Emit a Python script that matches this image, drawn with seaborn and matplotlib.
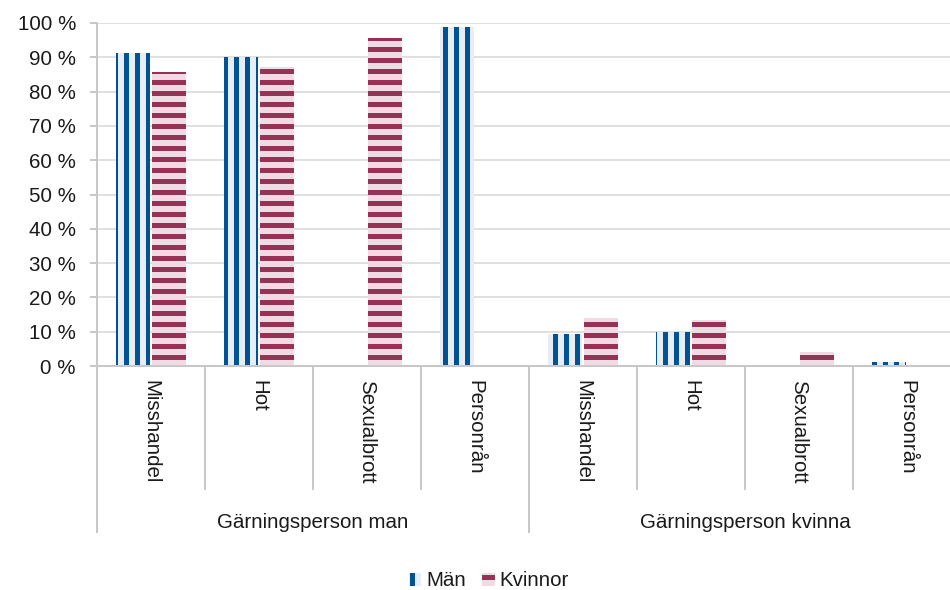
import matplotlib
matplotlib.use("Agg")
import matplotlib.pyplot as plt
import numpy as np
import pandas as pd
import seaborn as sns
from matplotlib.patches import Patch
from matplotlib.transforms import blended_transform_factory

# ---------------- data ----------------
groups = ["Gärningsperson man", "Gärningsperson kvinna"]
crimes = ["Misshandel", "Hot", "Sexualbrott", "Personrån"]
series = ["Män", "Kvinnor"]
man_values = [91.3, 90.1, 0.0, 98.8, 9.3, 9.9, 0.0, 1.2]
kvinnor_values = [85.7, 87.2, 95.6, 0.0, 14.0, 13.4, 4.1, 0.0]
yticks = [0, 10, 20, 30, 40, 50, 60, 70, 80, 90, 100]
ytick_labels = [f"{v} %" for v in yticks]

# ---------------- styling ----------------
DPI = 66
W, H = 950, 590


def pt(px):
    return px * 72.0 / DPI


sns.set_style("white")
plt.rcParams["font.family"] = ["Liberation Sans", "DejaVu Sans"]
plt.rcParams["hatch.linewidth"] = pt(5.0)
FS = pt(20.5)

man_dark, man_light = "#005293", "#e6edf5"
kv_dark, kv_light = "#953256", "#f0dae3"
grid_c = "#e0e0e0"
axis_c = "#c8c8c8"
text_c = "#1a1a1a"

# ---------------- data frame ----------------
keys = [f"{g}|{c}" for g in groups for c in crimes]
df = pd.DataFrame({
    "key": keys * 2,
    "serie": [series[0]] * len(keys) + [series[1]] * len(keys),
    "value": man_values + kvinnor_values,
})

fig = plt.figure(figsize=(W / DPI, H / DPI), dpi=DPI)
ax = fig.add_axes([97 / W, 1 - 366 / H, 864 / W, 343 / H])

sns.barplot(data=df, x="key", y="value", hue="serie", order=keys,
            hue_order=series, width=0.65, gap=0.03, legend=False, ax=ax,
            zorder=3)

styles = [(man_light, man_dark, "|"), (kv_light, kv_dark, "-")]
for cont, (fc, ec, ht) in zip(ax.containers, styles):
    for bar in cont:
        bar.set_facecolor(fc)
        bar.set_edgecolor(ec)
        bar.set_hatch(ht)
        bar.set_linewidth(0)

ax.set_xlim(-0.5, len(keys) - 0.5)
ax.set_ylim(0, 100)
ax.set_yticks(yticks)
ax.set_yticklabels(ytick_labels, fontsize=FS, color=text_c)
ax.set_xticks([])
ax.set_xlabel("")
ax.set_ylabel("")
ax.tick_params(axis="y", length=pt(7), width=pt(2), color=axis_c, pad=pt(14), left=True)
ax.yaxis.grid(True, color=grid_c, linewidth=pt(2))
ax.set_axisbelow(True)
for s in ["top", "right"]:
    ax.spines[s].set_visible(False)
for s in ["left", "bottom"]:
    ax.spines[s].set_color(axis_c)
    ax.spines[s].set_linewidth(pt(2))
ax.spines["bottom"].set_zorder(4)

# ---------------- category axis decorations ----------------
trans = blended_transform_factory(ax.transData, ax.transAxes)
ax_h = 343.0
for k in range(len(keys) + 1):
    x = k - 0.5
    y_end = -(533 - 366) / ax_h if k % 4 == 0 else -(490 - 366) / ax_h
    ax.plot([x, x], [0, y_end], transform=trans, color=axis_c,
            linewidth=pt(2), clip_on=False, solid_capstyle="butt")

for i, key in enumerate(keys):
    ax.text(i, -(380 - 366) / ax_h, key.split("|")[1], transform=trans,
            rotation=270, ha="center", va="top", fontsize=FS, color=text_c)

for gi, g in enumerate(groups):
    ax.text(gi * 4 + 1.5, -(522 - 366) / ax_h, g, transform=trans,
            ha="center", va="center", fontsize=FS, color=text_c)

# ---------------- legend ----------------
handles = [Patch(facecolor=man_light, edgecolor=man_dark, hatch="|", linewidth=0),
           Patch(facecolor=kv_light, edgecolor=kv_dark, hatch="-", linewidth=0)]
fig.legend(handles, series, loc="center", bbox_to_anchor=(489 / W, 1 - 581 / H),
           ncol=2, frameon=False, fontsize=FS, handlelength=0.6, handleheight=0.6,
           handletextpad=0.25, columnspacing=0.8, borderpad=0, labelcolor=text_c)

fig.savefig("out.png", dpi=DPI)
